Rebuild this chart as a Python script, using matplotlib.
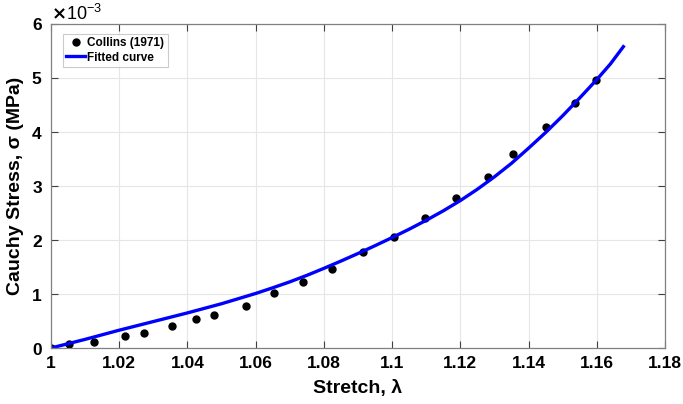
import numpy as np
import matplotlib
matplotlib.use('Agg')
import matplotlib.pyplot as plt
from matplotlib.ticker import ScalarFormatter

plt.rcParams['font.family'] = ['Liberation Sans Narrow', 'Liberation Sans', 'DejaVu Sans']
plt.rcParams['font.weight'] = 'bold'

# Collins (1971) experimental points (stretch, stress in MPa)
stretch_exp = [1.0, 1.0053, 1.0126, 1.0218, 1.0273, 1.0355, 1.0426, 1.0479, 1.0572,
               1.0655, 1.0740, 1.0825, 1.0914, 1.1006, 1.1097, 1.1187, 1.1281,
               1.1355, 1.1451, 1.1537, 1.1599]
stress_exp = [0.0, 0.074, 0.105, 0.216, 0.284, 0.407, 0.531, 0.605, 0.778,
              1.025, 1.23, 1.47, 1.78, 2.05, 2.41, 2.78, 3.17,
              3.59, 4.09, 4.54, 4.96]
stress_exp = [v * 1e-3 for v in stress_exp]

# fitted curve
stretch_fit = [1.0, 1.005, 1.01, 1.015, 1.02, 1.025, 1.03, 1.035, 1.04, 1.045, 1.05,
               1.055, 1.06, 1.065, 1.07, 1.075, 1.08, 1.085, 1.09, 1.095, 1.1,
               1.105, 1.11, 1.115, 1.12, 1.125, 1.13, 1.135, 1.14, 1.145, 1.15,
               1.155, 1.16, 1.164, 1.1678]
stress_fit = [0.0, 0.08, 0.16, 0.245, 0.33, 0.41, 0.49, 0.57, 0.65, 0.735, 0.82,
              0.915, 1.01, 1.115, 1.225, 1.345, 1.475, 1.61, 1.75, 1.895, 2.045,
              2.2, 2.365, 2.54, 2.73, 2.94, 3.17, 3.42, 3.7, 3.99, 4.3,
              4.63, 4.97, 5.26, 5.58]
stress_fit = [v * 1e-3 for v in stress_fit]

xticks = [1, 1.02, 1.04, 1.06, 1.08, 1.1, 1.12, 1.14, 1.16, 1.18]
xticklabels = ['1', '1.02', '1.04', '1.06', '1.08', '1.1', '1.12', '1.14', '1.16', '1.18']

fig = plt.figure(figsize=(6.83, 4.04), dpi=100)
ax = fig.add_axes([0.0747, 0.1386, 0.8989, 0.802])

ax.plot(stretch_exp, stress_exp, 'o', color='black', markersize=5, label='Collins (1971)')
ax.plot(stretch_fit, stress_fit, '-', color='#0000ff', linewidth=2.4, label='Fitted curve')

ax.set_xlim(1, 1.18)
ax.set_ylim(0, 6e-3)
ax.set_xticks(xticks)
ax.set_xticklabels(xticklabels)
ax.set_yticks([0, 1e-3, 2e-3, 3e-3, 4e-3, 5e-3, 6e-3])
fmt = ScalarFormatter(useMathText=True)
fmt.set_powerlimits((-3, -3))
ax.yaxis.set_major_formatter(fmt)
ax.yaxis.get_offset_text().set_fontsize(13)
ax.yaxis.get_offset_text().set_fontweight('normal')

ax.grid(True, color='#e6e6e6', linewidth=0.8)
ax.set_axisbelow(True)
ax.tick_params(direction='in', top=True, right=True, labelsize=12.5, length=5,
               color='#404040', pad=6)
for s in ax.spines.values():
    s.set_color('#808080')
    s.set_linewidth(0.9)

ax.set_xlabel('Stretch, λ', fontsize=14, fontweight='bold', labelpad=6)
ax.set_ylabel('Cauchy Stress, σ (MPa)', fontsize=14, fontweight='bold', labelpad=5)

leg = ax.legend(loc='upper left', bbox_to_anchor=(0.019, 0.97), fontsize=8.5,
                frameon=True, fancybox=False, edgecolor='#bfbfbf', handlelength=1.6,
                handletextpad=0.2, borderpad=0.3, labelspacing=0.2, borderaxespad=0)
leg.get_frame().set_linewidth(0.8)

fig.savefig('out.png', dpi=100)
